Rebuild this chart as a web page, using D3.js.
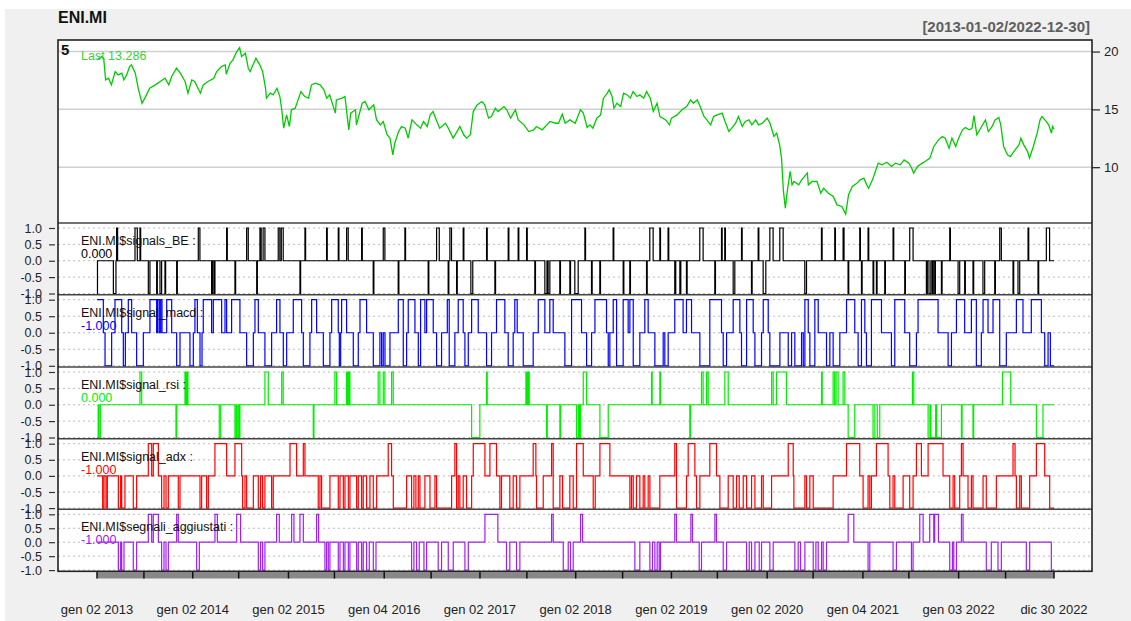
<!DOCTYPE html>
<html>
<head>
<meta charset="utf-8">
<script src="https://cdnjs.cloudflare.com/ajax/libs/d3/7.8.5/d3.min.js"></script>
<style>
  body { margin: 0; background: #ffffff; }
  svg { display: block; font-family: "Liberation Sans", Arial, sans-serif; }
</style>
</head>
<body>
<svg id="chart" width="1131" height="621"></svg>
<script>
// Time is expressed in years elapsed since 2013-01-02 (trading calendar).
// ENI.MI close price: [t, price]
const price = [
  [0.00,19.28],[0.05,19.57],[0.07,19.42],[0.09,17.55],[0.12,17.69],[0.15,17.12],[0.19,18.27],[0.22,17.98],[0.26,18.13],[0.28,17.55],
  [0.31,17.98],[0.34,18.70],[0.36,18.85],[0.40,18.13],[0.43,16.83],[0.47,15.53],[0.50,15.97],[0.55,16.83],[0.61,17.12],[0.66,17.41],
  [0.71,17.69],[0.75,17.12],[0.78,17.84],[0.83,18.56],[0.87,18.13],[0.92,17.41],[0.95,16.40],[0.99,17.55],[1.02,17.41],[1.08,16.40],
  [1.11,17.12],[1.16,17.41],[1.22,17.69],[1.25,18.27],[1.30,18.70],[1.34,18.85],[1.35,18.04],[1.39,18.99],[1.42,19.28],[1.46,20.00],
  [1.49,20.35],[1.51,19.57],[1.55,19.86],[1.58,18.56],[1.60,18.27],[1.63,18.85],[1.66,19.42],[1.70,18.85],[1.73,18.27],[1.76,16.83],
  [1.77,15.97],[1.81,16.40],[1.84,16.25],[1.88,16.83],[1.91,16.11],[1.93,14.96],[1.95,13.37],[1.98,14.52],[2.01,13.52],[2.03,14.96],
  [2.07,15.10],[2.10,15.82],[2.13,16.54],[2.17,16.11],[2.21,15.97],[2.24,17.12],[2.28,17.26],[2.33,17.12],[2.37,16.69],[2.40,15.97],
  [2.43,16.25],[2.49,14.67],[2.50,15.82],[2.56,15.97],[2.59,16.11],[2.63,13.23],[2.65,14.67],[2.70,14.96],[2.71,13.66],[2.77,15.53],
  [2.80,15.68],[2.84,14.96],[2.89,15.39],[2.92,14.09],[2.96,13.66],[2.99,13.95],[3.03,12.80],[3.06,12.51],[3.09,11.07],[3.11,12.07],
  [3.15,13.08],[3.18,13.52],[3.22,13.37],[3.25,12.51],[3.29,14.09],[3.34,13.66],[3.38,13.37],[3.41,13.95],[3.45,13.52],[3.48,14.52],
  [3.51,14.81],[3.55,13.95],[3.58,13.37],[3.64,13.80],[3.67,13.37],[3.72,12.51],[3.76,13.08],[3.79,13.52],[3.83,12.80],[3.86,12.51],
  [3.90,12.80],[3.93,14.81],[3.97,15.39],[4.02,15.68],[4.05,15.39],[4.09,14.24],[4.12,14.38],[4.16,15.10],[4.19,14.81],[4.25,15.24],
  [4.28,14.96],[4.32,14.24],[4.37,14.96],[4.40,14.09],[4.46,13.66],[4.51,13.08],[4.56,13.23],[4.59,13.52],[4.65,13.23],[4.70,13.66],
  [4.73,13.95],[4.79,13.80],[4.82,13.80],[4.86,14.58],[4.89,13.80],[4.94,14.09],[4.995,13.80],
  [5.05,14.96],[5.08,14.67],[5.12,13.43],[5.15,13.66],[5.18,13.37],[5.22,14.24],[5.26,14.52],[5.29,15.97],[5.33,16.40],[5.35,16.69],
  [5.38,16.11],[5.40,15.10],[5.43,15.53],[5.47,15.24],[5.50,16.40],[5.54,16.25],[5.57,15.97],[5.60,16.54],[5.64,16.11],[5.67,16.25],
  [5.71,15.97],[5.74,16.54],[5.78,15.97],[5.81,14.81],[5.85,15.53],[5.88,14.38],[5.94,14.09],[5.98,13.66],[6.00,14.24],[6.06,14.52],
  [6.11,14.96],[6.16,15.24],[6.20,15.82],[6.23,15.53],[6.27,15.82],[6.30,15.24],[6.34,14.38],[6.37,14.09],[6.41,13.66],[6.44,14.38],
  [6.48,14.52],[6.53,14.67],[6.56,13.95],[6.60,13.08],[6.63,13.37],[6.67,13.80],[6.70,14.38],[6.74,13.52],[6.77,13.95],[6.81,14.09],
  [6.84,13.66],[6.88,14.09],[6.91,13.66],[6.95,13.80],[7.00,14.24],[7.03,13.80],[7.07,12.65],[7.10,12.94],[7.13,11.93],[7.15,10.78],
  [7.17,7.90],[7.19,6.46],[7.21,7.90],[7.24,9.63],[7.26,8.47],[7.28,8.76],[7.33,8.47],[7.36,8.90],[7.42,9.48],[7.43,8.47],
  [7.47,8.76],[7.52,8.76],[7.56,7.75],[7.59,8.18],[7.64,7.75],[7.69,7.46],[7.73,6.74],[7.78,6.60],[7.82,5.94],[7.85,7.61],
  [7.89,8.33],[7.94,8.62],[7.97,8.90],[8.01,9.05],[8.04,8.47],[8.06,8.18],[8.10,8.90],[8.13,9.63],[8.16,10.35],[8.20,10.20],
  [8.25,10.43],[8.30,10.06],[8.34,10.35],[8.39,10.20],[8.43,10.63],[8.48,10.35],[8.51,9.91],[8.53,9.48],[8.57,10.06],[8.62,10.35],
  [8.65,10.49],[8.70,10.78],[8.74,11.79],[8.79,12.36],[8.83,12.65],[8.86,12.51],[8.90,11.64],[8.93,12.51],[8.97,11.79],[9.00,12.51],
  [9.04,13.23],[9.07,13.43],[9.11,13.23],[9.14,13.37],[9.16,14.47],[9.19,12.80],[9.23,13.37],[9.28,14.09],[9.31,13.08],[9.35,13.52],
  [9.38,14.09],[9.42,14.29],[9.44,13.66],[9.47,11.79],[9.51,11.07],[9.54,10.92],[9.59,11.50],[9.63,11.93],[9.65,12.51],[9.68,11.93],
  [9.72,11.35],[9.74,10.78],[9.78,11.79],[9.82,12.94],[9.85,14.09],[9.87,14.38],[9.91,14.01],[9.94,13.66],[9.97,12.94],[9.98,13.52],
  [9.996,13.286]
];

// Signal series as change points: [t, new value]; each value holds until the next change.
const signalsBE = [
  [0,-1],[0.005,0],[0.171,-1],[0.198,0],[0.205,1],[0.215,0],[0.397,1],[0.421,0],[0.449,1],[0.456,0],
  [0.536,-1],[0.553,0],[0.623,-1],[0.630,0],[0.658,-1],[0.675,0],[0.710,-1],[0.717,0],[0.832,-1],[0.839,0],
  [1.058,1],[1.075,0],[1.197,-1],[1.207,0],[1.222,-1],[1.232,0],[1.354,1],[1.361,0],[1.441,-1],[1.448,0],
  [1.563,1],[1.580,0],[1.668,-1],[1.675,0],[1.702,1],[1.715,0],[1.735,1],[1.754,0],[1.893,1],[1.910,0],
  [1.925,1],[1.945,0],[2.120,-1],[2.127,0],[2.172,1],[2.179,0],[2.398,1],[2.405,0],[2.520,1],[2.527,0],
  [2.607,1],[2.624,0],[2.764,1],[2.771,0],[2.885,-1],[2.892,0],[2.990,1],[3.007,0],[3.146,-1],[3.153,0],
  [3.216,1],[3.223,0],[3.459,-1],[3.466,0],[3.547,1],[3.575,0],[3.668,-1],[3.675,0],[3.686,1],[3.703,0],
  [3.756,-1],[3.763,0],[3.825,1],[3.832,0],[3.905,-1],[3.925,0],[4.069,1],[4.076,0],[4.156,-1],[4.163,0],
  [4.295,1],[4.302,0],[4.399,1],[4.406,0],[4.487,1],[4.494,0],[4.573,-1],[4.580,0],[4.678,-1],[4.700,0],
  [4.712,-1],[4.730,0],[4.834,-1],[4.841,0],[4.939,-1],[4.946,0],[4.991,-1],[5.026,0],[5.096,1],[5.103,0],
  [5.165,-1],[5.172,0],[5.252,-1],[5.259,0],[5.391,1],[5.398,0],[5.496,-1],[5.503,0],[5.565,-1],[5.572,0],
  [5.740,-1],[5.747,0],[5.774,1],[5.809,0],[5.879,1],[5.886,0],[5.965,1],[5.972,0],[6.035,-1],[6.045,0],
  [6.088,-1],[6.098,0],[6.157,-1],[6.164,0],[6.296,1],[6.331,0],[6.453,-1],[6.460,0],[6.523,1],[6.530,0],
  [6.557,1],[6.564,0],[6.645,-1],[6.662,0],[6.732,1],[6.739,0],[6.836,-1],[6.843,0],[6.906,1],[6.913,0],
  [6.958,-1],[6.986,0],[7.028,1],[7.062,0],[7.132,1],[7.167,0],[7.393,-1],[7.411,0],[7.567,1],[7.574,0],
  [7.706,1],[7.713,0],[7.793,1],[7.803,0],[7.845,-1],[7.852,0],[7.967,1],[7.974,0],[7.985,-1],[7.992,0],
  [8.054,1],[8.061,0],[8.106,-1],[8.113,0],[8.141,-1],[8.148,0],[8.228,-1],[8.235,0],[8.315,1],[8.322,0],
  [8.437,-1],[8.444,0],[8.489,1],[8.524,0],[8.663,-1],[8.673,0],[8.690,-1],[8.710,0],[8.725,-1],[8.735,0],
  [8.750,-1],[8.757,0],[8.820,-1],[8.827,0],[8.907,1],[8.914,0],[8.994,-1],[9.011,0],[9.063,-1],[9.070,0],
  [9.150,-1],[9.157,0],[9.254,-1],[9.272,0],[9.377,-1],[9.384,0],[9.429,1],[9.446,0],[9.568,-1],[9.575,0],
  [9.620,-1],[9.638,0],[9.725,1],[9.732,0],[9.829,-1],[9.836,0],[9.916,1],[9.950,0]
];

const signalMACD = [
  [0,1],[0.066,0],[0.084,-1],[0.153,0],[0.188,1],[0.258,0],[0.275,-1],[0.296,0],[0.327,1],[0.362,0],
  [0.414,-1],[0.484,0],[0.553,1],[0.623,0],[0.634,1],[0.651,0],[0.665,1],[0.679,0],[0.728,1],[0.780,0],
  [0.832,-1],[0.867,0],[0.971,-1],[1.006,0],[1.023,1],[1.048,0],[1.076,-1],[1.097,0],[1.110,1],[1.197,0],
  [1.215,1],[1.302,0],[1.337,1],[1.354,0],[1.406,1],[1.493,0],[1.563,-1],[1.633,0],[1.650,1],[1.685,0],
  [1.754,-1],[1.824,0],[1.876,1],[1.911,0],[1.946,-1],[1.981,0],[2.050,1],[2.137,0],[2.155,-1],[2.224,0],
  [2.242,1],[2.294,0],[2.364,-1],[2.433,0],[2.451,1],[2.520,0],[2.531,-1],[2.545,0],[2.555,1],[2.607,0],
  [2.677,-1],[2.729,0],[2.747,1],[2.816,0],[2.886,-1],[2.955,0],[2.973,-1],[2.990,0],[3.008,-1],[3.060,0],
  [3.147,1],[3.199,-1],[3.234,0],[3.251,1],[3.321,0],[3.356,-1],[3.380,1],[3.425,0],[3.443,1],[3.512,0],
  [3.547,-1],[3.599,0],[3.659,1],[3.679,-1],[3.738,0],[3.773,1],[3.825,0],[3.843,-1],[3.878,0],[3.913,1],
  [3.982,0],[4.069,-1],[4.121,0],[4.173,1],[4.260,0],[4.295,-1],[4.347,0],[4.364,1],[4.389,0],[4.452,-1],
  [4.556,0],[4.609,1],[4.678,0],[4.730,1],[4.765,0],[4.887,-1],[4.957,1],[5.061,0],[5.114,-1],[5.166,0],
  [5.201,1],[5.322,0],[5.340,-1],[5.357,0],[5.392,1],[5.427,-1],[5.496,1],[5.548,0],[5.566,1],[5.601,-1],
  [5.670,0],[5.722,1],[5.757,0],[5.827,-1],[5.914,0],[5.931,-1],[5.966,0],[6.035,1],[6.122,0],[6.157,1],
  [6.210,0],[6.297,-1],[6.401,1],[6.523,0],[6.541,-1],[6.576,0],[6.645,1],[6.715,0],[6.732,-1],[6.785,1],
  [6.854,0],[6.872,-1],[6.941,0],[6.959,1],[7.011,0],[7.028,-1],[7.133,0],[7.220,-1],[7.255,0],[7.289,-1],
  [7.359,0],[7.377,-1],[7.394,1],[7.429,0],[7.446,-1],[7.498,1],[7.533,0],[7.620,-1],[7.655,0],[7.689,-1],
  [7.759,0],[7.829,1],[7.915,0],[7.950,-1],[7.985,1],[8.020,0],[8.037,-1],[8.089,1],[8.194,0],[8.298,-1],
  [8.333,1],[8.437,0],[8.489,-1],[8.559,0],[8.576,1],[8.785,0],[8.890,-1],[8.925,0],[8.977,1],[9.063,0],
  [9.133,1],[9.185,-1],[9.237,0],[9.255,1],[9.307,0],[9.359,1],[9.429,-1],[9.498,0],[9.603,1],[9.672,0],
  [9.759,1],[9.864,0],[9.899,-1],[9.934,0],[9.958,-1]
];

const signalRSI = [
  [0,-1],[0.012,0],[0.020,-1],[0.035,0],[0.449,1],[0.467,0],[0.825,-1],[0.832,0],[0.919,1],[0.930,0],
  [0.940,1],[0.950,0],[1.277,-1],[1.292,0],[1.441,-1],[1.455,0],[1.465,-1],[1.480,0],[1.485,-1],[1.493,0],
  [1.754,1],[1.789,0],[1.929,1],[1.945,0],[2.259,-1],[2.266,0],[2.485,1],[2.503,0],[2.607,1],[2.617,0],
  [2.630,1],[2.642,0],[2.937,1],[2.955,0],[2.990,1],[3.007,0],[3.077,1],[3.094,0],[3.913,-1],[3.999,0],
  [4.069,1],[4.076,0],[4.480,1],[4.492,0],[4.503,1],[4.515,0],[4.696,-1],[4.703,0],[4.835,-1],[4.842,0],
  [5.009,-1],[5.030,0],[5.040,-1],[5.051,0],[5.079,1],[5.114,0],[5.253,-1],[5.340,0],[5.792,1],[5.799,0],
  [5.879,1],[5.886,0],[6.192,-1],[6.199,0],[6.314,1],[6.331,0],[6.367,1],[6.384,0],[6.558,1],[6.593,0],
  [7.046,1],[7.063,0],[7.097,1],[7.201,0],[7.568,1],[7.575,0],[7.689,1],[7.705,0],[7.720,1],[7.741,0],
  [7.793,1],[7.811,0],[7.846,-1],[7.915,0],[8.106,-1],[8.125,0],[8.150,-1],[8.176,0],[8.517,1],[8.531,0],
  [8.681,-1],[8.700,0],[8.710,-1],[8.760,0],[8.770,-1],[8.820,0],[9.029,-1],[9.036,0],[9.150,-1],[9.157,0],
  [9.457,1],[9.544,0],[9.812,-1],[9.881,0]
];

const signalADX = [
  [0,0],[0.059,-1],[0.073,0],[0.094,-1],[0.108,0],[0.223,-1],[0.247,0],[0.258,-1],[0.292,0],[0.379,-1],
  [0.414,0],[0.536,1],[0.571,0],[0.588,1],[0.641,0],[0.675,-1],[0.700,0],[0.721,-1],[0.745,0],[0.849,-1],
  [0.867,0],[1.076,-1],[1.093,0],[1.145,-1],[1.163,0],[1.232,1],[1.354,0],[1.441,1],[1.511,0],[1.521,-1],
  [1.546,0],[1.563,-1],[1.633,0],[1.685,-1],[1.709,0],[1.730,-1],[1.754,0],[1.824,-1],[1.841,0],[2.016,1],
  [2.085,0],[2.155,1],[2.172,0],[2.311,-1],[2.329,0],[2.346,-1],[2.433,0],[2.520,-1],[2.538,0],[2.573,-1],
  [2.590,0],[2.625,-1],[2.642,0],[2.712,-1],[2.729,0],[2.764,-1],[2.781,0],[2.816,-1],[2.851,0],[2.886,-1],
  [2.921,0],[3.042,1],[3.077,0],[3.095,-1],[3.234,0],[3.286,-1],[3.310,0],[3.331,-1],[3.356,0],[3.373,-1],
  [3.425,0],[3.478,-1],[3.530,0],[3.547,-1],[3.704,0],[3.738,1],[3.756,-1],[3.773,0],[3.790,-1],[3.825,0],
  [3.860,-1],[3.913,0],[3.930,1],[4.052,0],[4.104,1],[4.173,0],[4.208,-1],[4.225,0],[4.312,-1],[4.347,0],
  [4.382,-1],[4.417,0],[4.556,1],[4.584,0],[4.591,-1],[4.661,0],[4.748,1],[4.765,-1],[4.835,0],[4.863,-1],
  [4.939,0],[4.974,-1],[5.009,1],[5.079,0],[5.183,-1],[5.204,0],[5.253,1],[5.357,0],[5.566,-1],[5.583,0],
  [5.601,-1],[5.635,0],[5.670,-1],[5.705,0],[5.722,-1],[5.757,0],[5.775,-1],[5.879,0],[6.035,1],[6.053,-1],
  [6.157,0],[6.175,1],[6.245,0],[6.262,-1],[6.297,0],[6.401,1],[6.471,0],[6.506,-1],[6.593,0],[6.645,-1],
  [6.680,0],[6.708,-1],[6.750,0],[6.785,-1],[6.837,0],[6.872,-1],[6.941,0],[6.959,-1],[7.046,0],[7.220,1],
  [7.272,0],[7.279,-1],[7.394,0],[7.411,-1],[7.446,0],[7.481,-1],[7.689,0],[7.829,1],[7.967,0],[8.002,-1],
  [8.054,0],[8.072,-1],[8.089,0],[8.141,1],[8.263,0],[8.281,-1],[8.315,0],[8.333,-1],[8.420,0],[8.489,-1],
  [8.524,0],[8.559,1],[8.611,0],[8.681,1],[8.837,0],[8.907,-1],[8.942,0],[8.959,-1],[9.011,0],[9.029,1],
  [9.046,0],[9.098,-1],[9.133,0],[9.150,-1],[9.255,0],[9.289,-1],[9.394,0],[9.568,1],[9.589,0],[9.603,-1],
  [9.638,0],[9.655,-1],[9.742,0],[9.812,1],[9.899,0],[9.951,-1]
];

const segnaliAggiustati = [
  [0,0],[0.223,-1],[0.247,0],[0.258,-1],[0.282,0],[0.379,-1],[0.414,0],[0.536,1],[0.571,0],[0.588,1],
  [0.641,0],[0.675,-1],[0.700,0],[0.721,-1],[0.745,0],[0.832,1],[0.849,0],[1.041,-1],[1.069,0],[1.232,1],
  [1.257,0],[1.459,1],[1.500,0],[1.685,-1],[1.709,0],[1.730,-1],[1.754,0],[1.876,1],[1.904,0],[2.033,1],
  [2.057,0],[2.120,1],[2.155,0],[2.294,1],[2.315,0],[2.381,-1],[2.398,0],[2.416,-1],[2.433,0],[2.520,-1],
  [2.538,0],[2.573,-1],[2.590,0],[2.625,-1],[2.642,0],[2.712,-1],[2.729,0],[2.764,-1],[2.781,0],[2.816,-1],
  [2.844,0],[2.886,-1],[2.914,0],[3.286,-1],[3.310,0],[3.338,-1],[3.366,0],[3.415,-1],[3.443,0],[3.564,-1],
  [3.599,0],[3.669,-1],[3.721,0],[3.843,-1],[3.878,0],[4.052,1],[4.187,0],[4.277,-1],[4.312,0],[4.382,-1],
  [4.417,0],[4.748,1],[4.765,0],[4.870,-1],[4.922,0],[4.946,-1],[4.974,0],[5.051,1],[5.072,0],[5.618,-1],
  [5.670,0],[5.775,-1],[5.802,0],[5.827,-1],[5.851,0],[5.872,-1],[5.886,0],[6.035,1],[6.053,0],[6.203,1],
  [6.220,0],[6.290,-1],[6.314,0],[6.454,1],[6.471,0],[6.541,-1],[6.576,0],[6.785,-1],[6.813,0],[6.837,-1],
  [6.872,0],[6.917,-1],[6.941,0],[7.028,-1],[7.063,0],[7.289,-1],[7.324,0],[7.349,-1],[7.394,0],[7.481,-1],
  [7.509,0],[7.533,-1],[7.568,0],[7.585,-1],[7.620,0],[7.846,1],[7.905,0],[8.054,-1],[8.072,0],[8.315,-1],
  [8.350,0],[8.507,-1],[8.524,0],[8.594,1],[8.629,0],[8.698,1],[8.740,0],[8.750,1],[8.789,0],[8.907,-1],
  [8.935,0],[8.949,-1],[8.977,0],[9.029,1],[9.046,0],[9.289,-1],[9.341,0],[9.411,-1],[9.446,0],[9.707,-1],
  [9.742,0],[9.968,-1]
];

// Axis definitions
const endT = 9.996;
const xTickT = [0,0.49,1,1.48,2,2.48,3,3.49,4,4.49,5,5.49,6,6.48,7,7.48,8,8.48,9,9.49,9.996];
const xLabelT = [0,1,2,3,4,5,6,7,8,9,9.996];
const xLabels = ["gen 02 2013","gen 02 2014","gen 02 2015","gen 04 2016","gen 02 2017","gen 02 2018",
                 "gen 02 2019","gen 02 2020","gen 04 2021","gen 03 2022","dic 30 2022"];
const priceTicks = [10,15,20];
const signalTicks = [1,0.5,0,-0.5,-1];

const panelNames = ["ENI.MI$signals_BE :","ENI.MI$signal_macd :","ENI.MI$signal_rsi :","ENI.MI$signal_adx :","ENI.MI$segnali_aggiustati :"];
const panelSeries = [signalsBE, signalMACD, signalRSI, signalADX, segnaliAggiustati];
const panelColors = ["#000000","#0000ff","#00ee00","#ff0000","#a020f0"];
const panelTops = [223, 294.7, 367, 438.7, 509.3];
const panelBottom = 571.3;

// ---------------------------------------------------------------------------
const svg = d3.select("#chart");
const L = 58, R = 1092, T = 40, priceBottom = 223;

svg.append("rect").attr("x", 5).attr("y", 9).attr("width", 1126).attr("height", 612).attr("fill", "#f0f0f0");
svg.append("rect").attr("x", L).attr("y", T).attr("width", R - L).attr("height", panelBottom - T).attr("fill", "#ffffff");

const x = d3.scaleLinear().domain([0, endT]).range([97, 1054]);

// Price panel
const yP = d3.scaleLinear().domain([5.17, 21]).range([priceBottom, T]);
svg.append("g").selectAll("line").data(priceTicks).join("line")
  .attr("x1", L).attr("x2", R).attr("y1", d => yP(d)).attr("y2", d => yP(d))
  .attr("stroke", "#d0d0d0").attr("stroke-width", 1.5);

svg.append("path").datum(price)
  .attr("d", d3.line().x(d => x(d[0])).y(d => yP(d[1])))
  .attr("fill", "none").attr("stroke", "#00cc00").attr("stroke-width", 1.3);

const pAxis = svg.append("g").attr("transform", `translate(${R},0)`)
  .call(d3.axisRight(yP).tickValues(priceTicks).tickSize(8).tickPadding(4).tickFormat(d => d));
pAxis.select(".domain").remove();
pAxis.selectAll("line").attr("stroke", "#333").attr("stroke-width", 1.3);
pAxis.selectAll("text").attr("font-size", 13).attr("fill", "#222").attr("font-family", "Liberation Sans, Arial, sans-serif");

svg.append("text").attr("x", 81).attr("y", 60).attr("font-size", 12.5).attr("fill", "#3ccf3c")
  .text("Last " + price[price.length - 1][1].toFixed(3));
svg.append("text").attr("x", 61).attr("y", 55).attr("font-size", 15).attr("font-weight", "bold").attr("fill", "#111").text("5");

// Signal panels
panelSeries.forEach((series, i) => {
  const top = panelTops[i];
  const bottom = i < panelTops.length - 1 ? panelTops[i + 1] : panelBottom;
  const y = d3.scaleLinear().domain([-1, 1]).range([bottom - 1.2, top + 5]);

  svg.append("g").selectAll("line").data(signalTicks).join("line")
    .attr("x1", L).attr("x2", R).attr("y1", d => y(d)).attr("y2", d => y(d))
    .attr("stroke", "#bdbdbd").attr("stroke-width", 1).attr("stroke-dasharray", "2,3");

  const pts = series.concat([[endT, series[series.length - 1][1]]]);
  svg.append("path").datum(pts)
    .attr("d", d3.line().x(d => x(d[0])).y(d => y(d[1])).curve(d3.curveStepAfter))
    .attr("fill", "none").attr("stroke", panelColors[i]).attr("stroke-width", 1.2);

  const ax = svg.append("g").attr("transform", `translate(55,0)`)
    .call(d3.axisLeft(y).tickValues(signalTicks).tickSize(6).tickPadding(7).tickFormat(d => d.toFixed(1)));
  ax.select(".domain").remove();
  ax.selectAll("line").attr("stroke", "#333").attr("stroke-width", 1.2);
  ax.selectAll("text").attr("font-size", 12.5).attr("fill", "#222").attr("font-family", "Liberation Sans, Arial, sans-serif");

  svg.append("text").attr("x", 81).attr("y", top + 22).attr("font-size", 12.5).attr("fill", "#111").text(panelNames[i]);
  svg.append("text").attr("x", 81).attr("y", top + 35).attr("font-size", 12.5).attr("fill", panelColors[i])
    .text(series[series.length - 1][1].toFixed(3));
});

// Frame and panel separators
svg.append("g").selectAll("line").data(panelTops).join("line")
  .attr("x1", L).attr("x2", R).attr("y1", d => d).attr("y2", d => d)
  .attr("stroke", "#444").attr("stroke-width", 1.6);
svg.append("rect").attr("x", L).attr("y", T).attr("width", R - L).attr("height", panelBottom - T)
  .attr("fill", "none").attr("stroke", "#222").attr("stroke-width", 1.6);

// Time axis: grey band with half-year ticks and yearly labels
svg.append("rect").attr("x", x(0)).attr("y", 572).attr("width", x(endT) - x(0)).attr("height", 6.5).attr("fill", "#888888");
svg.append("g").selectAll("line").data(xTickT).join("line")
  .attr("x1", d => x(d)).attr("x2", d => x(d)).attr("y1", 572).attr("y2", 578.5)
  .attr("stroke", "#111").attr("stroke-width", 1.5);
svg.append("g").selectAll("text").data(xLabelT).join("text")
  .attr("x", d => x(d)).attr("y", 614).attr("text-anchor", "middle")
  .attr("font-size", 13).attr("fill", "#222").text((d, i) => xLabels[i]);

// Titles
svg.append("text").attr("x", 58).attr("y", 23).attr("font-size", 16).attr("font-weight", "bold").attr("fill", "#111").text("ENI.MI");
svg.append("text").attr("x", 1090).attr("y", 32).attr("text-anchor", "end").attr("font-size", 15)
  .attr("font-weight", "bold").attr("fill", "#5f5f5f").text("[2013-01-02/2022-12-30]");
</script>
</body>
</html>
